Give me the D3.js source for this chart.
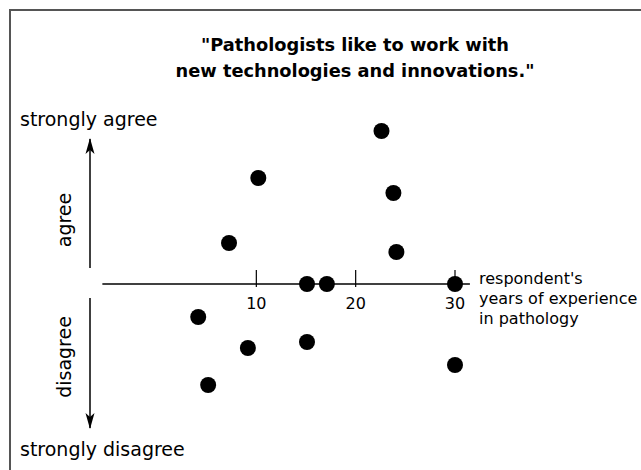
<!DOCTYPE html>
<meta charset="utf-8">
<style>
  body { margin: 0; background: #fff; }
  svg { display: block; font-family: "DejaVu Sans", Verdana, sans-serif; }
  .title { font-weight: bold; font-size: 17.8px; }
  .lbl { font-size: 19px; }
  .tick-lbl { font-size: 16px; }
  .xlbl { font-size: 16px; }
</style>
<body>
<svg id="chart" width="641" height="470"></svg>
<script src="https://d3js.org/d3.v7.min.js"></script>
<script>
// years of experience for each respondent
var years = [22.6, 10.2, 23.8, 7.25, 24.1, 15.1, 17.1, 30, 4.15, 9.15, 15.1, 5.15, 30];
// agreement score (positive = agree, negative = disagree)
var agreement = [1.53, 1.06, 0.91, 0.41, 0.32, 0, 0, 0, -0.33, -0.64, -0.58, -1.01, -0.81];
var xTicks = [10, 20, 30];
var titleLines = ['"Pathologists like to work with', 'new technologies and innovations."'];
var xLabelLines = ["respondent's", "years of experience", "in pathology"];

var W = 641, H = 470;
var svg = d3.select("#chart");

var x = d3.scaleLinear().domain([0, 30]).range([157, 455]);
var y = d3.scaleLinear().domain([-1, 1]).range([384, 184]);

// frame
svg.append("path")
    .attr("d", "M10," + H + "V10H" + W)
    .attr("fill", "none")
    .attr("stroke", "#555")
    .attr("stroke-width", 2);

// title
svg.append("text")
    .attr("class", "title")
    .attr("text-anchor", "middle")
    .selectAll("tspan")
    .data(titleLines)
  .enter().append("tspan")
    .attr("x", 355)
    .attr("y", function(d, i) { return 51 + i * 26; })
    .text(function(d) { return d; });

// arrow marker
var defs = svg.append("defs");
defs.append("marker")
    .attr("id", "arrow")
    .attr("viewBox", "0 -5 16 10")
    .attr("refX", 15)
    .attr("refY", 0)
    .attr("markerWidth", 16)
    .attr("markerHeight", 10)
    .attr("markerUnits", "userSpaceOnUse")
    .attr("orient", "auto")
  .append("path")
    .attr("d", "M0,-4.5L16,0L0,4.5L4,0Z")
    .attr("fill", "#000");

var ax = 90;
svg.append("line")
    .attr("x1", ax).attr("x2", ax)
    .attr("y1", y(0.16)).attr("y2", y(1.45))
    .attr("stroke", "#000").attr("stroke-width", 1.5)
    .attr("marker-end", "url(#arrow)");
svg.append("line")
    .attr("x1", ax).attr("x2", ax)
    .attr("y1", y(-0.14)).attr("y2", y(-1.44))
    .attr("stroke", "#000").attr("stroke-width", 1.5)
    .attr("marker-end", "url(#arrow)");

// y annotations
svg.append("text").attr("class", "lbl")
    .attr("x", 20).attr("y", 126).text("strongly agree");
svg.append("text").attr("class", "lbl")
    .attr("x", 20).attr("y", 456).text("strongly disagree");
svg.append("text").attr("class", "lbl")
    .attr("text-anchor", "middle")
    .attr("transform", "translate(71," + y(0.64) + ") rotate(-90)")
    .text("agree");
svg.append("text").attr("class", "lbl")
    .attr("text-anchor", "middle")
    .attr("transform", "translate(71," + y(-0.73) + ") rotate(-90)")
    .text("disagree");

// x axis
var y0 = y(0);
svg.append("line")
    .attr("x1", x(-5.5)).attr("x2", x(31.5))
    .attr("y1", y0).attr("y2", y0)
    .attr("stroke", "#000").attr("stroke-width", 1.5);

var tk = svg.append("g").selectAll("g")
    .data(xTicks)
  .enter().append("g")
    .attr("transform", function(d) { return "translate(" + x(d) + "," + y0 + ")"; });
tk.append("line")
    .attr("y1", -14).attr("y2", 3)
    .attr("stroke", "#000").attr("stroke-width", 1.2);
tk.append("text")
    .attr("class", "tick-lbl")
    .attr("text-anchor", "middle")
    .attr("y", 25)
    .text(function(d) { return d; });

svg.append("text")
    .attr("class", "xlbl")
    .selectAll("tspan")
    .data(xLabelLines)
  .enter().append("tspan")
    .attr("x", 479)
    .attr("y", function(d, i) { return 284 + i * 20; })
    .text(function(d) { return d; });

// points
svg.append("g").selectAll("circle")
    .data(years)
  .enter().append("circle")
    .attr("cx", function(d) { return x(d); })
    .attr("cy", function(d, i) { return y(agreement[i]); })
    .attr("r", 8)
    .attr("fill", "#000");
</script>
</body>
